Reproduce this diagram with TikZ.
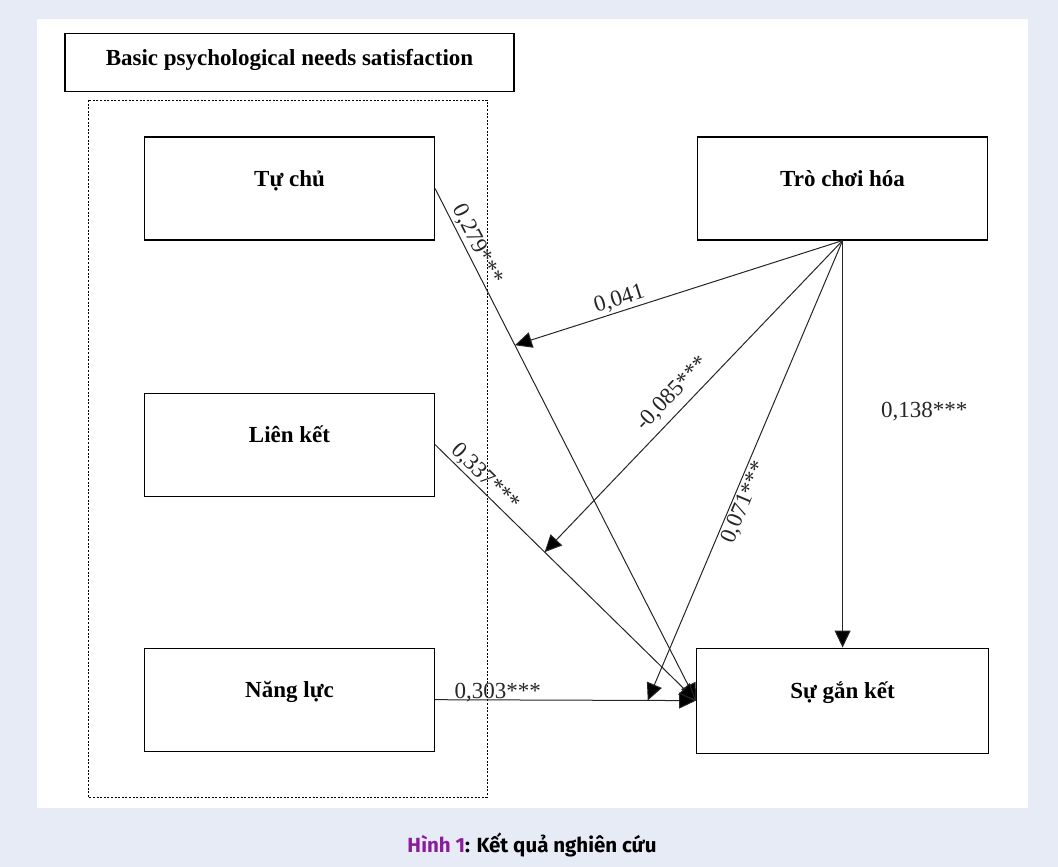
\documentclass[tikz,border=0pt]{standalone}
\usepackage{fontspec}
\setmainfont{Liberation Serif}
\newfontfamily\capfont{Fira Sans}
\usetikzlibrary{arrows.meta,calc,positioning}
\definecolor{nenxanh}{HTML}{E7EBF6}
\definecolor{tim}{HTML}{8B1D9C}
\definecolor{duong}{HTML}{262626}
\tikzset{
  hop/.style={
    draw=black,
    line width=1.1pt,
    fill=white,
    align=center,
    minimum width=290pt,
    minimum height=103pt,
    inner sep=0pt,
    text height=14pt,
    text depth=19pt,
    font=\fontsize{23}{27}\selectfont\bfseries
  },
  heso/.style={
    font=\fontsize{23}{27}\selectfont,
    text=duong,
    inner sep=2pt
  },
  vien/.style={
    draw=black,
    line width=1pt,
    dash pattern=on 2pt off 1.6pt
  },
  arrow/.style={
    -{Triangle[length=17pt,width=16pt,fill=black]},
    line width=1pt,
    duong
  }
}
\begin{document}
\begin{tikzpicture}[x=1pt,y=-1pt,node distance=152pt]
\fill[nenxanh] (0,0) rectangle (1058,867);
\fill[white] (37,19) rectangle (1028,808);
\draw[vien] (88,100) rectangle (487,797);
\node[hop] (tc) at (289.5,188.5) {Tự chủ};
\node[hop,below=of tc] (lk) {Liên kết};
\node[hop,below=151pt of lk] (nl) {Năng lực};
\node[hop,right=262pt of tc] (tch) {Trò chơi hóa};
\node[hop,below=407pt of tch,minimum width=292pt,minimum height=105pt] (sgk) {Sự gắn kết};
\node[hop,above=44pt of tc,minimum width=449pt,minimum height=58pt,text height=16pt,text depth=10.6pt] (bpn) {Basic psychological needs satisfaction};
% diem dich cua cac mui ten dieu tiet
\coordinate (m1) at ($(tc.east)!0.306!(sgk.west)$);
\coordinate (m2) at ($(lk.east)!0.42!(sgk.west)$);
\coordinate (m3) at ($(nl.east)!0.815!(sgk.west)$);
\draw[arrow] (tc.east) -- node[heso,pos=0.12,above,sloped] {0,279***} (sgk.west);
\draw[arrow] (lk.east) -- node[heso,pos=0.16,above,sloped] {0,337***} (sgk.west);
\draw[arrow] (nl.east) -- node[heso,pos=0.24,anchor=base,yshift=1.5pt] {0,303***} (sgk.west);
\draw[arrow] (tch.south) -- node[heso,pos=0.67,above,sloped] {0,041} (m1);
\draw[arrow] (tch.south) -- node[heso,pos=0.53,above=5pt,sloped] {-0,085***} (m2);
\draw[arrow] (tch.south) -- node[heso,pos=0.56,below,sloped] {0,071***} (m3);
\draw[arrow] (tch.south) -- node[heso,pos=0.42,right=36pt] {0,138***} (sgk.north);
\node[font=\capfont\fontsize{20.5}{24}\selectfont\bfseries] (cap) at (532,845) {\textcolor{tim}{Hình 1}: Kết quả nghiên cứu};
\end{tikzpicture}
\end{document}
